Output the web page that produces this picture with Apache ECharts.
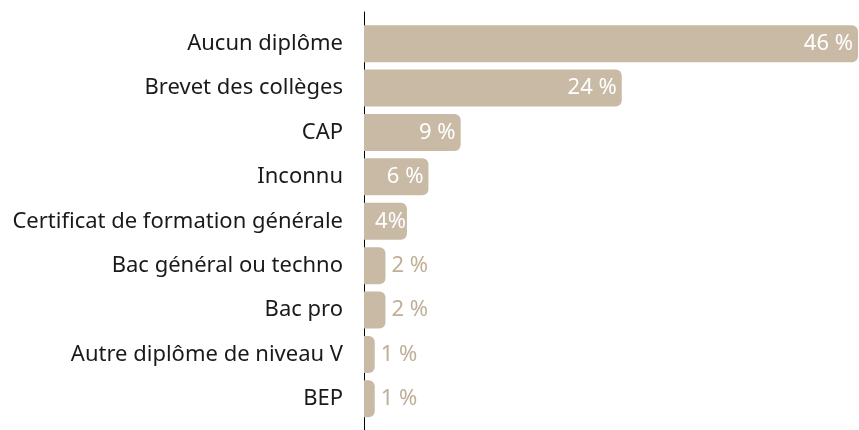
<!DOCTYPE html>
<html>
<head>
<meta charset="utf-8">
<style>
  html, body { margin: 0; padding: 0; background: #ffffff; }
  #chart { width: 859px; height: 430px; }
</style>
<script src="https://cdn.jsdelivr.net/npm/echarts@6/dist/echarts.min.js"></script>
</head>
<body>
<div id="chart"></div>
<script>
// Diplôme le plus élevé obtenu (en %)
const categories = [
  'Aucun diplôme',
  'Brevet des collèges',
  'CAP',
  'Inconnu',
  'Certificat de formation générale',
  'Bac général ou techno',
  'Bac pro',
  'Autre diplôme de niveau V',
  'BEP'
];
const values = [46, 24, 9, 6, 4, 2, 2, 1, 1];
const valueLabels = ['46 %', '24 %', '9 %', '6 %', '4%', '2 %', '2 %', '1 %', '1 %'];
// Values at or above this are labelled inside the bar
const insideThreshold = 4;

const BAR = '#c9baa5';
const FONT = '"Noto Sans"';

const chart = echarts.init(document.getElementById('chart'), null, { renderer: 'canvas' });

const data = values.map((v, i) => {
  const inside = v >= insideThreshold;
  return {
    value: v,
    label: inside
      ? { position: 'insideRight', color: '#ffffff', distance: v < 5 ? 1 : 5 }
      : { position: 'right', color: '#bfae98', distance: 6 }
  };
});

chart.setOption({
  animation: false,
  grid: [
    { left: 364, right: 1, top: 21.5, bottom: 9 },
    { left: 364, right: 1, top: 12, bottom: 0 }
  ],
  xAxis: [
    { type: 'value', gridIndex: 0, min: 0, max: 46, show: false },
    { type: 'value', gridIndex: 1, min: 0, max: 1, show: false }
  ],
  yAxis: [
    {
      type: 'category',
      gridIndex: 0,
      data: categories,
      inverse: true,
      axisLine: { show: false },
      axisTick: { show: false },
      axisLabel: {
        color: '#1a1a1a',
        fontFamily: FONT,
        fontSize: 22,
        margin: 21
      }
    },
    {
      // vertical baseline spanning the full chart height
      type: 'value',
      gridIndex: 1,
      min: 0,
      max: 1,
      axisLine: { show: true, lineStyle: { color: '#000000', width: 1 } },
      axisTick: { show: false },
      axisLabel: { show: false },
      splitLine: { show: false }
    }
  ],
  series: [{
    type: 'bar',
    xAxisIndex: 0,
    yAxisIndex: 0,
    data: data,
    barWidth: 37,
    itemStyle: { color: BAR, borderRadius: [0, 6, 6, 0] },
    label: {
      show: true,
      fontFamily: FONT,
      fontSize: 22,
      formatter: p => valueLabels[p.dataIndex]
    }
  }]
});
</script>
</body>
</html>
